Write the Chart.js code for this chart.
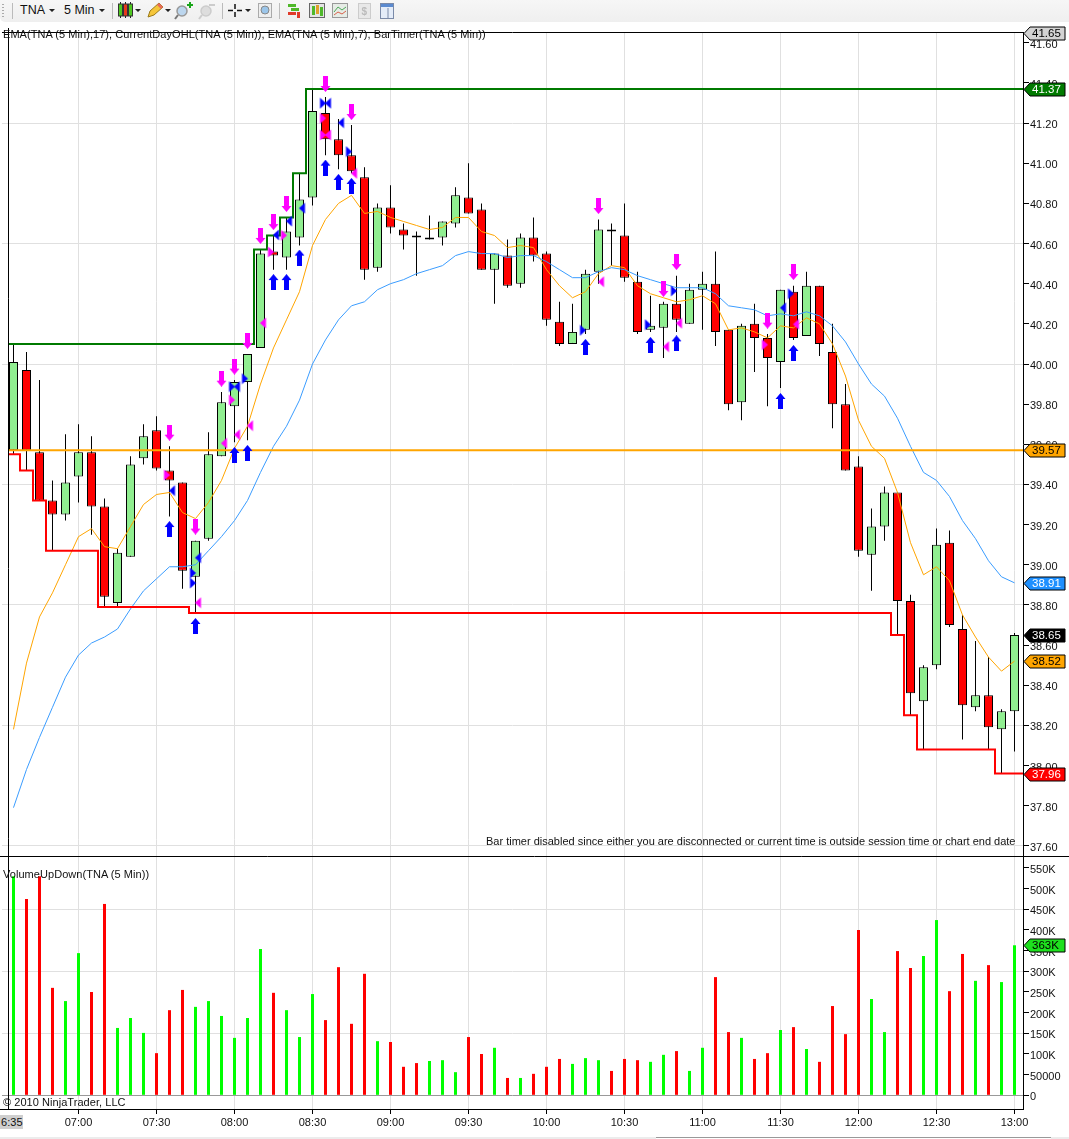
<!DOCTYPE html>
<html>
<head>
<meta charset="utf-8">
<title>TNA 5 Min</title>
<script src="https://cdn.jsdelivr.net/npm/chart.js@4"></script>
<style>
html, body { margin: 0; padding: 0; background: #fff; }
#page { position: relative; width: 1069px; height: 1139px; overflow: hidden; font-family: "Liberation Sans", Arial, sans-serif; color: #111; }
.note { position: absolute; font-size: 11px; line-height: 14px; letter-spacing: 0.05px; white-space: nowrap; }
#toolbar { position: absolute; left: 0; top: 0; width: 1069px; height: 22px; background: linear-gradient(#f6f6f6, #efefef); border-bottom-left-radius: 5px; }
#toolbar span { position: absolute; top: 2px; font-size: 12.5px; line-height: 16px; color: #111; }
#footbar { position: absolute; left: 0; top: 1137px; width: 1069px; height: 2px; background: #ececec; }
#thumb { position: absolute; left: 656px; top: 1137px; width: 395px; height: 2px; background: #fff; border-top: 1px solid #999; }
</style>
</head>
<body>
<div id="page">
  <canvas id="tnaChart" width="1069" height="1139" style="position:absolute;left:0;top:0"></canvas>
  <div id="toolbar">
    <span style="left:20px">TNA</span>
    <span style="left:64px">5 Min</span>
    <svg width="400" height="22" style="position:absolute;left:0;top:0">
      <path d="M3 4v1M3 7v1M3 10v1M3 13v1M3 16v1" stroke="#aaa" stroke-width="2"/>
      <path d="M12.5 3v16M112.5 3v16M222.5 3v16M279.5 3v16" stroke="#bbb"/>
      <path d="M49 9h6l-3 3zM99 9h6l-3 3zM135 9h6l-3 3zM165 9h6l-3 3zM245 9h6l-3 3z" fill="#222"/>
      <!-- candles -->
      <path d="M120.5 2v16M125.5 2v16M130.5 2v16" stroke="#222"/>
      <rect x="118.5" y="4" width="4" height="12" fill="#4fc820" stroke="#333"/>
      <rect x="123.5" y="4" width="4" height="12" fill="#e83a1a" stroke="#333"/>
      <rect x="128.5" y="4" width="4" height="12" fill="#4fc820" stroke="#333"/>
      <!-- pencil -->
      <path d="M148 17l2-6 9-8 4 4-9 8z" fill="#f5c63a" stroke="#9a7a1a"/>
      <path d="M159 3l4 4 -2 2 -4-4z" fill="#e86a5a"/>
      <!-- zoom in and out -->
      <circle cx="182" cy="11" r="5" fill="#bcd6ee" stroke="#999" stroke-width="1.5"/>
      <path d="M178 15l-3 4" stroke="#777" stroke-width="2"/>
      <path d="M187 5h6M190 2v6" stroke="#1aa61a" stroke-width="2"/>
      <circle cx="206" cy="11" r="5" fill="#ddd" stroke="#ccc" stroke-width="1.5"/>
      <path d="M202 15l-3 4" stroke="#ccc" stroke-width="2"/>
      <path d="M209 5h6" stroke="#ccc" stroke-width="2"/>
      <!-- crosshair -->
      <path d="M228 10.5h5M237 10.5h5M235 4v5M235 12v5" stroke="#111" stroke-width="1.5"/>
      <rect x="258.5" y="3.5" width="13" height="14" fill="#eee" stroke="#aaa"/>
      <circle cx="265" cy="10" r="4" fill="#9cc6ea" stroke="#888"/>
      <!-- chart style icons -->
      <path d="M288 4h8v3h-8zM291 8h8v3h-8z" fill="#4fb82a"/>
      <path d="M288 12h8v3h-8zM297 12h3v6h-3z" fill="#e03a2a"/>
      <rect x="309.5" y="3.5" width="15" height="14" fill="#e4e4e4" stroke="#666"/>
      <rect x="312" y="6" width="3" height="9" fill="#4fb82a"/>
      <rect x="316" y="5" width="3" height="9" fill="#e0a02a"/>
      <rect x="320" y="7" width="3" height="9" fill="#4fb82a"/>
      <rect x="332.5" y="3.5" width="15" height="14" fill="#e6ece6" stroke="#999"/>
      <path d="M334 12l4-5 4 3 4-3" fill="none" stroke="#4fa85a"/>
      <path d="M334 15l4-3 4 2 4-3" fill="none" stroke="#d8604a"/>
      <rect x="358.5" y="3.5" width="12" height="15" fill="#e8e8e8" stroke="#ccc"/>
      <text x="361.5" y="15" font-size="10" font-weight="bold" fill="#bbb" font-family="Liberation Sans">$</text>
      <rect x="380.5" y="3.5" width="13" height="15" fill="#e4ecf8" stroke="#7a8aa8"/>
      <rect x="381" y="4" width="12" height="3" fill="#5a8ad0"/>
      <path d="M388 8v10" stroke="#7a8aa8"/>
    </svg>
  </div>
  <div class="note" style="left:3px;top:27px">EMA(TNA (5 Min),17), CurrentDayOHL(TNA (5 Min)), EMA(TNA (5 Min),7), BarTimer(TNA (5 Min))</div>
  <div class="note" style="left:486px;top:834px;letter-spacing:0">Bar timer disabled since either you are disconnected or current time is outside session time or chart end date</div>
  <div class="note" style="left:3px;top:867px">VolumeUpDown(TNA (5 Min))</div>
  <div class="note" style="left:3px;top:1095px">© 2010 NinjaTrader, LLC</div>
  <div class="note" style="left:0;top:1115px;width:23px;height:14px;background:#cfcfcf;text-indent:1px">6:35</div>
  <div id="footbar"></div>
  <div id="thumb"></div>
</div>
<script>
var ctx = document.getElementById('tnaChart').getContext('2d');

// one label per 5 min bar
var barTimes = ['6:35','6:40','6:45','6:50','6:55','07:00','07:05','07:10','07:15','07:20','07:25','07:30','07:35','07:40','07:45','07:50','07:55','08:00','08:05','08:10','08:15','08:20','08:25','08:30','08:35','08:40','08:45','08:50','08:55','09:00','09:05','09:10','09:15','09:20','09:25','09:30','09:35','09:40','09:45','09:50','09:55','10:00','10:05','10:10','10:15','10:20','10:25','10:30','10:35','10:40','10:45','10:50','10:55','11:00','11:05','11:10','11:15','11:20','11:25','11:30','11:35','11:40','11:45','11:50','11:55','12:00','12:05','12:10','12:15','12:20','12:25','12:30','12:35','12:40','12:45','12:50','12:55','13:00'];

var opens = [39.57,39.97,39.56,39.32,39.25,39.44,39.56,39.29,38.81,39.04,39.53,39.67,39.47,39.41,38.94,39.13,39.54,39.79,39.91,40.08,40.56,40.53,40.63,40.83,41.25,41.12,41.04,40.93,40.48,40.78,40.67,40.64,40.62,40.63,40.70,40.83,40.77,40.47,40.54,40.40,40.63,40.55,40.21,40.10,40.17,40.46,40.67,40.64,40.41,40.17,40.18,40.30,40.20,40.37,40.40,40.17,39.81,40.20,40.13,40.01,40.36,40.14,40.39,40.06,39.80,39.49,39.05,39.19,39.36,38.82,38.32,38.50,39.11,38.68,38.29,38.35,38.18,38.27];
var highs = [40.10,40.06,39.92,39.42,39.65,39.70,39.64,39.33,39.08,39.54,39.70,39.74,39.59,39.41,39.12,39.66,39.86,39.92,40.05,40.57,40.64,40.73,40.95,41.37,41.33,41.22,41.19,40.98,40.80,40.89,40.70,40.66,40.74,40.71,40.88,41.00,40.80,40.55,40.62,40.65,40.73,40.56,40.31,40.30,40.47,40.72,40.70,40.80,40.46,40.34,40.31,40.44,40.40,40.46,40.56,40.17,40.20,40.30,40.15,40.37,40.39,40.46,40.39,40.20,39.90,39.54,39.28,39.39,39.36,38.85,38.50,39.18,39.17,38.75,38.62,38.54,38.28,38.66];
var lows = [39.55,39.47,39.32,39.07,39.22,39.31,39.15,38.79,38.79,39.04,39.50,39.47,39.24,38.88,38.76,39.12,39.54,39.61,39.62,40.08,40.47,40.47,40.59,40.79,41.04,40.97,40.95,40.42,40.46,40.65,40.57,40.44,40.62,40.59,40.68,40.75,40.47,40.30,40.38,40.38,40.51,40.19,40.09,40.10,40.15,40.40,40.49,40.41,40.15,40.16,40.03,40.16,40.20,40.17,40.09,39.77,39.72,39.96,39.79,39.88,40.12,40.14,40.04,39.68,39.47,39.04,38.87,39.12,38.65,38.25,38.08,38.48,38.69,38.13,38.27,38.08,37.96,38.07];
var closes = [40.01,39.57,39.32,39.25,39.41,39.56,39.29,38.84,39.06,39.50,39.64,39.48,39.42,38.97,39.12,39.55,39.81,39.91,40.05,40.55,40.54,40.66,40.82,41.26,41.12,41.04,40.96,40.47,40.78,40.68,40.64,40.63,40.63,40.71,40.84,40.75,40.47,40.55,40.39,40.63,40.54,40.22,40.10,40.16,40.45,40.67,40.66,40.43,40.16,40.19,40.30,40.22,40.37,40.40,40.16,39.80,40.19,40.13,40.03,40.37,40.13,40.39,40.10,39.80,39.47,39.07,39.19,39.36,38.82,38.36,38.49,39.10,38.70,38.30,38.35,38.19,38.27,38.65];

var volumes = [530000,475000,530000,260000,228000,344000,250000,463000,163000,187000,151000,102000,206000,255000,214000,228000,192000,139000,187000,354000,248000,206000,141000,245000,182000,310000,173000,294000,131000,129000,69000,78000,83000,85000,56000,141000,100000,115000,42000,42000,52000,69000,88000,76000,90000,85000,59000,88000,85000,81000,98000,107000,59000,115000,286000,153000,139000,88000,102000,158000,165000,112000,81000,216000,148000,400000,233000,153000,349000,308000,337000,424000,252000,342000,277000,315000,274000,363000];

var ema7 = [38.18,38.51,38.74,38.86,39.00,39.14,39.18,39.09,39.08,39.19,39.30,39.35,39.36,39.26,39.23,39.31,39.42,39.58,39.69,39.90,40.08,40.22,40.36,40.59,40.72,40.80,40.84,40.75,40.76,40.73,40.71,40.69,40.67,40.68,40.73,40.73,40.66,40.64,40.58,40.59,40.58,40.47,40.39,40.33,40.36,40.45,40.49,40.48,40.39,40.35,40.33,40.31,40.32,40.34,40.30,40.17,40.18,40.16,40.13,40.19,40.18,40.23,40.20,40.10,39.94,39.72,39.59,39.53,39.36,39.11,38.95,38.99,38.92,38.75,38.64,38.54,38.47,38.52];
var ema17 = [37.79,37.98,38.14,38.29,38.44,38.55,38.61,38.64,38.68,38.78,38.87,38.93,38.99,38.99,39.00,39.07,39.14,39.22,39.32,39.46,39.59,39.69,39.82,40.00,40.12,40.22,40.29,40.31,40.37,40.40,40.42,40.45,40.47,40.49,40.54,40.56,40.55,40.55,40.53,40.54,40.54,40.51,40.47,40.43,40.43,40.46,40.48,40.47,40.44,40.42,40.40,40.38,40.38,40.38,40.35,40.29,40.28,40.27,40.24,40.25,40.24,40.26,40.24,40.19,40.11,40.00,39.90,39.84,39.73,39.59,39.46,39.42,39.34,39.22,39.13,39.02,38.94,38.91];

// current day high, low and open steps, bar index where each level holds
var dayHighBars = [-0.42,18,19,20,21,22,23,78];
var dayHighValues = [40.10,40.10,40.57,40.64,40.73,40.95,41.37,41.37];
var dayLowBars = [-0.42,0,1,2,3,6,7,13,14,67,68,69,70,75,76,78];
var dayLowValues = [39.55,39.55,39.47,39.32,39.07,39.07,38.79,38.79,38.76,38.76,38.65,38.25,38.08,38.08,37.96,37.96];
var dayOpenBars = [-0.42,78];
var dayOpenValues = [39.57,39.57];

// signal markers
var upArrowBars = [12,14,17,18,20,21,22,24,25,26,44,49,51,59,60];
var upArrowPrices = [39.178,38.695,39.547,39.557,40.408,40.408,40.53,40.978,40.907,40.887,40.085,40.095,40.103,39.816,40.055];
var downArrowBars = [12,14,16,17,18,19,20,21,24,26,45,50,51,58,60];
var downArrowPrices = [39.658,39.19,39.927,39.987,40.115,40.638,40.707,40.797,41.395,41.255,40.787,40.374,40.508,40.216,40.458];
var blueLeftBars = [12,14,17,20,21,22,24,25,59];
var blueLeftPrices = [39.369,39.035,39.887,40.643,40.712,40.776,41.299,41.202,40.28];
var blueRightBars = [14,14,17,18,24,26,44,49,51,60];
var blueRightPrices = [38.959,38.909,39.887,39.927,41.299,41.058,40.168,40.196,40.364,40.35];
var pinkRightBars = [12,17,20,21,24,24,58];
var pinkRightPrices = [39.447,39.821,40.558,40.641,41.224,41.141,40.096];
var pinkLeftBars = [14,16,17,18,19,24,26,45,50,51,60];
var pinkLeftPrices = [38.811,39.605,39.648,39.693,40.204,41.141,40.95,40.41,40.086,40.203,40.198];

// axis ticks
var priceTicks = [37.6,37.8,38,38.2,38.4,38.6,38.8,39,39.2,39.4,39.6,39.8,40,40.2,40.4,40.6,40.8,41,41.2,41.4,41.6];
var priceGridTicks = [37.6,38.2,38.8,39.4,40,40.6,41.2];
var volumeTicks = [0,50000,100000,150000,200000,250000,300000,350000,400000,450000,500000,550000];
var volumeGridTicks = [150000,300000,450000];
var timeTickBars = [5,11,17,23,29,35,41,47,53,59,65,71,77];

// price flags on the right axis: value, fill, text colour
var priceFlags = [
    [41.65, '#d3d3d3', '#000'],
    [41.37, '#007a00', '#fff'],
    [39.57, '#ffa500', '#000'],
    [38.91, '#1e90ff', '#fff'],
    [38.65, '#000000', '#fff'],
    [38.52, '#ffa500', '#000'],
    [37.96, '#ff0000', '#fff']
];
var volumeFlag = [363000, '#1ee01e', '#000'];

var tickFont = { family: '"Liberation Sans", Arial, sans-serif', size: 11 };
var greenBody = '#90ee90';
var redBody = '#ff0000';

function xy(bars, values) {
    return bars.map(function(b, i) { return { x: b, y: values[i] } });
}

function arrowImage(color, up) {
    var c = document.createElement('canvas');
    c.width = 11;
    c.height = 16;
    var g = c.getContext('2d');
    g.fillStyle = color;
    g.translate(0, up ? 0 : 16);
    g.scale(1, up ? 1 : -1);
    g.beginPath();
    g.moveTo(5.5, 0);
    g.lineTo(10.5, 6);
    g.lineTo(8, 6);
    g.lineTo(8, 16);
    g.lineTo(3, 16);
    g.lineTo(3, 6);
    g.lineTo(0.5, 6);
    g.closePath();
    g.fill();
    return c;
}

// half size triangle, sits against the candle centre line
function triangleImage(color, right) {
    var c = document.createElement('canvas');
    c.width = 14;
    c.height = 12;
    var g = c.getContext('2d');
    g.fillStyle = color;
    g.beginPath();
    if (right) {
        g.moveTo(1.5, 0.5);
        g.lineTo(7.5, 6);
        g.lineTo(1.5, 11.5);
    } else {
        g.moveTo(12.5, 0.5);
        g.lineTo(6.5, 6);
        g.lineTo(12.5, 11.5);
    }
    g.closePath();
    g.fill();
    return c;
}

function markers(bars, prices, image) {
    return {
        type: 'line',
        data: xy(bars, prices),
        yAxisID: 'y',
        showLine: false,
        pointStyle: image,
        pointRadius: 6,
        order: 1
    };
}

function levelLine(bars, values, color) {
    return {
        type: 'line',
        data: xy(bars, values),
        yAxisID: 'y',
        stepped: 'middle',
        borderColor: color,
        borderWidth: 2,
        pointRadius: 0,
        order: 20
    };
}

function emaLine(values, color) {
    return {
        type: 'line',
        data: values.map(function(v, i) { return { x: i, y: v } }),
        yAxisID: 'y',
        borderColor: color,
        borderWidth: 1,
        pointRadius: 0,
        tension: 0,
        order: 30
    };
}

var wickData = barTimes.map(function(t, i) { return { x: i, y: [lows[i], highs[i]] } });
var bodyData = barTimes.map(function(t, i) { return { x: i, y: [opens[i], closes[i]] } });
var volumeData = barTimes.map(function(t, i) { return { x: i, y: volumes[i] } });
var bodyColors = barTimes.map(function(t, i) { return closes[i] >= opens[i] ? greenBody : redBody });
var volumeColors = barTimes.map(function(t, i) { return closes[i] >= opens[i] ? '#00ff00' : '#ff0000' });

var framePlugin = {
    id: 'frame',
    afterDraw: function(chart) {
        var g = chart.ctx;
        var xs = chart.scales.x;
        var py = chart.scales.y;
        var vy = chart.scales.volume;
        g.save();
        g.strokeStyle = '#000';
        g.lineWidth = 1;
        g.beginPath();
        g.moveTo(2, py.top + 0.5);
        g.lineTo(xs.right, py.top + 0.5);
        g.moveTo(0, py.bottom + 0.5);
        g.lineTo(1069, py.bottom + 0.5);
        g.moveTo(0, vy.bottom + 0.5);
        g.lineTo(xs.right, vy.bottom + 0.5);
        g.moveTo(8.5, py.top - 4);
        g.lineTo(8.5, vy.bottom);
        g.stroke();

        priceFlags.forEach(function(f) { drawFlag(g, xs.right, py.getPixelForValue(f[0]), f[0].toFixed(2), f[1], f[2], 1065) });
        drawFlag(g, xs.right, vy.getPixelForValue(volumeFlag[0]), (volumeFlag[0] / 1000) + 'K', volumeFlag[1], volumeFlag[2], 1065);
        g.restore();
    }
};

function drawFlag(g, x, y, text, fill, textColor, rightEdge) {
    y = Math.round(y) + 0.5;
    g.beginPath();
    g.moveTo(x + 1, y);
    g.lineTo(x + 7, y - 6.5);
    g.lineTo(rightEdge, y - 6.5);
    g.lineTo(rightEdge, y + 6.5);
    g.lineTo(x + 7, y + 6.5);
    g.closePath();
    g.fillStyle = fill;
    g.fill();
    g.strokeStyle = '#000';
    g.stroke();
    g.fillStyle = textColor;
    g.font = '11.5px "Liberation Sans", Arial, sans-serif';
    g.textAlign = 'left';
    g.textBaseline = 'middle';
    g.fillText(text, x + 9, y + 0.5);
}

var chart = new Chart(ctx, {
    data: {
        datasets: [
            // candles
            {
                type: 'bar',
                data: wickData,
                yAxisID: 'y',
                backgroundColor: '#000',
                barThickness: 1,
                grouped: false,
                inflateAmount: 0,
                order: 60
            },
            {
                type: 'bar',
                data: bodyData,
                yAxisID: 'y',
                backgroundColor: bodyColors,
                borderColor: '#000',
                borderWidth: 1,
                borderSkipped: false,
                barThickness: 9,
                grouped: false,
                inflateAmount: 0,
                order: 50
            },
            emaLine(ema17, '#3a9cff'),
            emaLine(ema7, '#ffa500'),
            levelLine(dayHighBars, dayHighValues, '#007a00'),
            levelLine(dayLowBars, dayLowValues, '#ff0000'),
            levelLine(dayOpenBars, dayOpenValues, '#ffa500'),
            markers(upArrowBars, upArrowPrices, arrowImage('#0000ff', true)),
            markers(downArrowBars, downArrowPrices, arrowImage('#ff00ff', false)),
            markers(blueLeftBars, blueLeftPrices, triangleImage('#0000ff', false)),
            markers(blueRightBars, blueRightPrices, triangleImage('#0000ff', true)),
            markers(pinkRightBars, pinkRightPrices, triangleImage('#ff00ff', true)),
            markers(pinkLeftBars, pinkLeftPrices, triangleImage('#ff00ff', false)),
            // volume panel
            {
                type: 'bar',
                data: volumeData,
                yAxisID: 'volume',
                backgroundColor: volumeColors,
                barThickness: 3,
                grouped: false,
                inflateAmount: 0,
                order: 60
            }
        ]
    },
    options: {
        responsive: false,
        animation: false,
        // point markers would otherwise push the plot area in from the left
        layout: { autoPadding: false, padding: { left: 2, top: 32, right: 0, bottom: 0 } },
        plugins: { legend: { display: false }, tooltip: { enabled: false } },
        events: [],
        scales: {
            x: {
                type: 'linear',
                position: 'bottom',
                offset: false,
                min: -0.8846,
                max: 77.654,
                afterFit: function(s) {
                    s.height = 30;
                    // no room kept for the first and last label
                    s.paddingLeft = 0;
                    s.paddingRight = 0;
                },
                afterBuildTicks: function(s) {
                    s.ticks = timeTickBars.map(function(b) { return { value: b } });
                },
                grid: { offset: false, color: '#e0e0e0', tickColor: '#000', tickLength: 5 },
                border: { color: '#000' },
                ticks: {
                    autoSkip: false,
                    maxRotation: 0,
                    padding: 2,
                    color: '#111',
                    font: tickFont,
                    callback: function(v) { return barTimes[v] }
                }
            },
            y: {
                type: 'linear',
                position: 'right',
                stack: 'panes',
                stackWeight: 824,
                min: 37.5492,
                max: 41.6538,
                afterFit: function(s) { s.width = 46 },
                afterBuildTicks: function(s) {
                    s.ticks = priceTicks.map(function(v) { return { value: v } });
                },
                grid: {
                    tickColor: '#000',
                    tickLength: 6,
                    color: function(c) {
                        return c.tick && priceGridTicks.indexOf(c.tick.value) >= 0 ? '#e0e0e0' : 'rgba(0,0,0,0)';
                    }
                },
                border: { color: '#000' },
                ticks: {
                    autoSkip: false,
                    padding: 1,
                    labelOffset: 2,
                    color: '#111',
                    font: tickFont,
                    callback: function(v) { return v.toFixed(2) }
                }
            },
            volume: {
                type: 'linear',
                position: 'right',
                stack: 'panes',
                stackWeight: 253,
                min: -33100,
                max: 579000,
                afterFit: function(s) { s.width = 46 },
                afterBuildTicks: function(s) {
                    s.ticks = volumeTicks.map(function(v) { return { value: v } });
                },
                grid: {
                    tickColor: '#000',
                    tickLength: 6,
                    color: function(c) {
                        if (!c.tick) return 'rgba(0,0,0,0)';
                        if (c.tick.value === 0) return '#999';
                        return volumeGridTicks.indexOf(c.tick.value) >= 0 ? '#e0e0e0' : 'rgba(0,0,0,0)';
                    }
                },
                border: { color: '#000' },
                ticks: {
                    autoSkip: false,
                    padding: 1,
                    labelOffset: 2,
                    color: '#111',
                    font: tickFont,
                    callback: function(v) {
                        if (v === 0) return '0';
                        if (v === 50000) return '50000';
                        return (v / 1000) + 'K';
                    }
                }
            }
        }
    },
    plugins: [framePlugin]
});
</script>
</body>
</html>
